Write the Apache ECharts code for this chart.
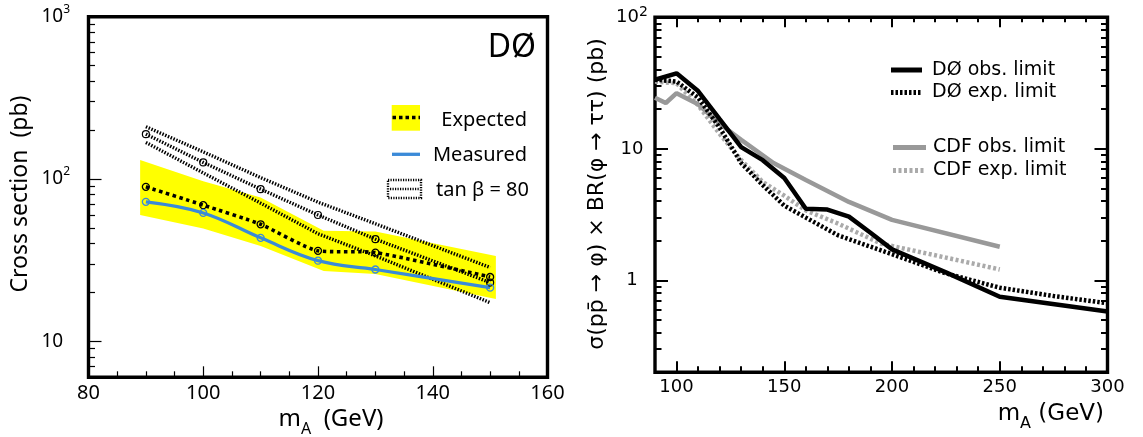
<!DOCTYPE html>
<html><head><meta charset="utf-8">
<script src="https://cdn.jsdelivr.net/npm/echarts@6/dist/echarts.min.js"></script>
<style>html,body{margin:0;padding:0;background:#fff}#c{width:1143px;height:437px}</style>
</head><body><div id="c"></div>
<script>
// ---------- Left panel (DØ, tan beta = 80) ----------
const leftMass = [90, 100, 110, 120, 130, 150];
const expectedLimit = [89.5, 69, 52.6, 36.1, 35.2, 24.9];
const measuredLimit = [72.3, 61.8, 43.4, 31.4, 27.7, 21.4];
const tanBetaCentral = [189, 126.5, 86.6, 60, 42.6, 23];
const tanBetaUpper = [210, 147, 102, 72, 53, 28.5];
const tanBetaLower = [168, 109, 71, 46, 33.6, 17.3];
const bandMass = [89, 100, 110, 121, 130, 151];
const bandUpper = [131, 97, 77, 48, 47.5, 33.5];
const bandLower = [60, 49.5, 38.7, 27.1, 26, 18.2];
const leftYMajor = [10, 100, 1000];
const leftYMinor = [7, 8, 9, 20, 30, 40, 50, 60, 70, 80, 90, 200, 300, 400, 500, 600, 700, 800, 900];

// ---------- Right panel (DØ / CDF limits) ----------
const d0ObsMass = [90, 100, 110, 120, 130, 140, 150, 160, 170, 180, 190, 200, 225, 250, 300];
const d0ObsLimit = [33.5, 37.5, 27.5, 16.8, 10.3, 8.2, 6.0, 3.5, 3.45, 3.05, 2.3, 1.72, 1.15, 0.75, 0.58];
const d0ExpMass = [90, 100, 110, 120, 130, 140, 150, 160, 175, 200, 225, 250, 275, 300];
const d0ExpLimit = [33.5, 32.5, 24.5, 14.5, 7.8, 5.3, 3.7, 3.0, 2.2, 1.58, 1.13, 0.88, 0.76, 0.67];
const cdfObsMass = [90, 95, 100, 110, 120, 130, 145, 160, 180, 200, 250];
const cdfObsLimit = [24.5, 22.3, 26.5, 21.8, 15.5, 11.7, 7.8, 5.8, 3.95, 2.88, 1.8];
const cdfExpMass = [90, 100, 110, 120, 130, 140, 150, 160, 175, 195, 225, 250];
const cdfExpLimit = [32.5, 31.5, 21.5, 13, 8.2, 5.6, 4.4, 3.4, 2.7, 1.9, 1.49, 1.21];
const rightXMajor = [100, 150, 200, 250, 300];
const rightYMajor = [1, 10, 100];
const rightYMinor = [0.3, 0.4, 0.5, 0.6, 0.7, 0.8, 0.9, 2, 3, 4, 5, 6, 7, 8, 9, 20, 30, 40, 50, 60, 70, 80, 90];

const pairs = (xs, ys) => xs.map((x, i) => [x, ys[i]]);

const NOTO = "'Noto Sans', sans-serif";
const DJ = "'DejaVu Sans', sans-serif";

function supLabel(v) {
  const e = Math.round(Math.log10(v));
  if (e >= 2) return '{b|10}{p|' + e + '}';
  return '{b|' + (e === 1 ? '10' : '1') + '}';
}

function tick(len, w, values) {
  const t = { show: true, inside: true, length: len, lineStyle: { color: '#000', width: w } };
  if (values) t.customValues = values;
  return t;
}
const noLabel = { show: false };
const noSplit = { show: false };

const chart = echarts.init(document.getElementById('c'), null, { renderer: 'canvas' });

const option = {
  animation: false,
  backgroundColor: '#fff',
  grid: [
    { left: 88.5, top: 16.7, width: 459, height: 360.6, show: true, borderColor: '#000', borderWidth: 3.4, backgroundColor: 'transparent', containLabel: false, outerBoundsMode: 'none' },
    { left: 655, top: 17.3, width: 452.5, height: 355, show: true, borderColor: '#000', borderWidth: 3.4, backgroundColor: 'transparent', containLabel: false, outerBoundsMode: 'none' }
  ],
  xAxis: [
    { gridIndex: 0, type: 'value', min: 80, max: 160, interval: 20, position: 'bottom',
      axisLine: { show: false }, axisTick: tick(11, 1.2),
      minorTick: { show: true, splitNumber: 4, length: 6, lineStyle: { color: '#000', width: 1.2 } },
      axisLabel: { color: '#000', fontSize: 20, fontFamily: NOTO, margin: 6, showMinLabel: true, showMaxLabel: true },
      splitLine: noSplit, minorSplitLine: noSplit },
    { gridIndex: 1, type: 'value', min: 90, max: 300, position: 'bottom',
      axisLine: { show: false }, axisTick: tick(11, 2, rightXMajor),
      axisLabel: { color: '#000', fontSize: 18, fontFamily: DJ, margin: 6, customValues: rightXMajor, showMinLabel: true, showMaxLabel: true },
      splitLine: noSplit },
    { gridIndex: 1, type: 'value', min: 90, max: 300, interval: 10, position: 'bottom',
      axisLine: { show: false }, axisTick: tick(6, 2), axisLabel: noLabel, splitLine: noSplit },
    { gridIndex: 1, type: 'value', min: 90, max: 300, position: 'top',
      axisLine: { show: false }, axisTick: tick(10, 2, rightXMajor), axisLabel: noLabel, splitLine: noSplit },
    { gridIndex: 1, type: 'value', min: 90, max: 300, interval: 10, position: 'top',
      axisLine: { show: false }, axisTick: tick(5, 2), axisLabel: noLabel, splitLine: noSplit }
  ],
  yAxis: [
    { gridIndex: 0, type: 'log', logBase: 10, min: 6, max: 1000, position: 'left',
      axisLine: { show: false }, axisTick: tick(13, 1.2, leftYMajor),
      axisLabel: { customValues: leftYMajor, align: 'left', margin: 47, color: '#000',
        formatter: v => supLabel(v), showMinLabel: true, showMaxLabel: true,
        rich: { b: { fontSize: 19, fontFamily: NOTO, color: '#000' },
                p: { fontSize: 12, fontFamily: NOTO, color: '#000', padding: [0, 0, 14, 0] } } },
      splitLine: noSplit },
    { gridIndex: 0, type: 'log', logBase: 10, min: 6, max: 1000, position: 'left',
      axisLine: { show: false }, axisTick: tick(6.5, 1.2, leftYMinor), axisLabel: noLabel, splitLine: noSplit },
    { gridIndex: 1, type: 'log', logBase: 10, min: 0.2, max: 100, position: 'left',
      axisLine: { show: false }, axisTick: tick(13, 2, rightYMajor),
      axisLabel: { customValues: rightYMajor, align: 'center', margin: 23, color: '#000',
        formatter: v => supLabel(v), showMinLabel: true, showMaxLabel: true,
        rich: { b: { fontSize: 18, fontFamily: DJ, color: '#000' },
                p: { fontSize: 14, fontFamily: DJ, color: '#000', padding: [0, 0, 9, 0] } } },
      splitLine: noSplit },
    { gridIndex: 1, type: 'log', logBase: 10, min: 0.2, max: 100, position: 'left',
      axisLine: { show: false }, axisTick: tick(6.5, 2, rightYMinor), axisLabel: noLabel, splitLine: noSplit },
    { gridIndex: 1, type: 'log', logBase: 10, min: 0.2, max: 100, position: 'right',
      axisLine: { show: false }, axisTick: tick(13, 2, rightYMajor), axisLabel: noLabel, splitLine: noSplit },
    { gridIndex: 1, type: 'log', logBase: 10, min: 0.2, max: 100, position: 'right',
      axisLine: { show: false }, axisTick: tick(6.5, 2, rightYMinor), axisLabel: noLabel, splitLine: noSplit }
  ],
  series: [
    // yellow expected band: polygon through upper edge then lower edge, placed via the axes
    { name: 'Expected band', type: 'custom', xAxisIndex: 0, yAxisIndex: 0, silent: true,
      data: [[bandMass[0], bandLower[0]]],
      renderItem: function (params, api) {
        const up = bandMass.map((m, i) => api.coord([m, bandUpper[i]]));
        const lo = bandMass.map((m, i) => api.coord([m, bandLower[i]])).reverse();
        return { type: 'polygon', shape: { points: up.concat(lo) }, style: { fill: '#ffff00' } };
      } },
    // tan beta = 80 band lines
    { name: 'tanUpper', type: 'line', xAxisIndex: 0, yAxisIndex: 0, symbol: 'none',
      data: pairs(leftMass, tanBetaUpper), lineStyle: { color: '#000', width: 3.4, type: [1.5, 1.5] } },
    { name: 'tanLower', type: 'line', xAxisIndex: 0, yAxisIndex: 0, symbol: 'none',
      data: pairs(leftMass, tanBetaLower), lineStyle: { color: '#000', width: 3.4, type: [1.5, 1.5] } },
    { name: 'tanCentral', type: 'line', xAxisIndex: 0, yAxisIndex: 0, symbol: 'circle', symbolSize: 7,
      itemStyle: { color: 'transparent', borderColor: '#000', borderWidth: 1.2 },
      data: pairs(leftMass, tanBetaCentral), lineStyle: { color: '#000', width: 3.4, type: [1.5, 1.5] } },
    // expected
    { name: 'Expected', type: 'line', xAxisIndex: 0, yAxisIndex: 0, smooth: 0.2, symbol: 'circle', symbolSize: 7,
      itemStyle: { color: 'transparent', borderColor: '#000', borderWidth: 1.3 },
      data: pairs(leftMass, expectedLimit), lineStyle: { color: '#000', width: 3.6, type: [3.5, 3.5] } },
    // measured
    { name: 'Measured', type: 'line', xAxisIndex: 0, yAxisIndex: 0, smooth: 0.4, symbol: 'circle', symbolSize: 7,
      itemStyle: { color: 'transparent', borderColor: '#3a8ad8', borderWidth: 1.3 },
      data: pairs(leftMass, measuredLimit), lineStyle: { color: '#3a8ad8', width: 3.2 } },
    // right panel
    { name: 'CDF exp. limit', type: 'line', xAxisIndex: 1, yAxisIndex: 2, symbol: 'none',
      data: pairs(cdfExpMass, cdfExpLimit), lineStyle: { color: '#aaaaaa', width: 4.5, type: [3, 2.5] } },
    { name: 'CDF obs. limit', type: 'line', xAxisIndex: 1, yAxisIndex: 2, symbol: 'none',
      data: pairs(cdfObsMass, cdfObsLimit), lineStyle: { color: '#999999', width: 4.5 } },
    { name: 'DØ exp. limit', type: 'line', xAxisIndex: 1, yAxisIndex: 2, symbol: 'none',
      data: pairs(d0ExpMass, d0ExpLimit), lineStyle: { color: '#000', width: 4.5, type: [2.5, 2] } },
    { name: 'DØ obs. limit', type: 'line', xAxisIndex: 1, yAxisIndex: 2, symbol: 'none',
      data: pairs(d0ObsMass, d0ObsLimit), lineStyle: { color: '#000', width: 4.5 } }
  ],
  graphic: [
    // left panel label
    { type: 'text', x: 536, y: 48, style: { text: 'DØ', font: '32px ' + NOTO, fill: '#000', textAlign: 'right', textVerticalAlign: 'middle' } },
    // left legend
    { type: 'rect', shape: { x: 391.7, y: 105, width: 28.3, height: 25.7 }, style: { fill: '#ffff00' } },
    { type: 'line', shape: { x1: 392.5, y1: 117.5, x2: 420, y2: 117.5 }, style: { stroke: '#000', lineWidth: 3.5, lineDash: [3.5, 3] } },
    { type: 'text', x: 527, y: 120, style: { text: 'Expected', font: '20px ' + NOTO, fill: '#000', textAlign: 'right', textVerticalAlign: 'middle' } },
    { type: 'line', shape: { x1: 392, y1: 154.3, x2: 420, y2: 154.3 }, style: { stroke: '#3a8ad8', lineWidth: 3.3 } },
    { type: 'text', x: 527, y: 155, style: { text: 'Measured', font: '20px ' + NOTO, fill: '#000', textAlign: 'right', textVerticalAlign: 'middle' } },
    { type: 'rect', shape: { x: 388, y: 180, width: 33, height: 18 }, style: { fill: 'none', stroke: '#000', lineWidth: 2.4, lineDash: [1.2, 1.3] } },
    { type: 'line', shape: { x1: 390, y1: 189, x2: 419, y2: 189 }, style: { stroke: '#000', lineWidth: 2.4, lineDash: [1.2, 1.3] } },
    { type: 'text', x: 529, y: 190, style: { text: 'tan β = 80', font: '20px ' + NOTO, fill: '#000', textAlign: 'right', textVerticalAlign: 'middle' } },
    // left axis titles
    { type: 'text', x: 20, y: 194, rotation: Math.PI / 2, style: { text: 'Cross section  (pb)', font: '23px ' + NOTO, fill: '#000', textAlign: 'center', textVerticalAlign: 'middle' } },
    { type: 'text', x: 331, y: 419, style: { text: '{m|m}{s|A}{m|  (GeV)}', textAlign: 'center', textVerticalAlign: 'middle',
      rich: { m: { fontSize: 24, fontFamily: NOTO, fill: '#000' }, s: { fontSize: 16, fontFamily: NOTO, fill: '#000', padding: [20, 0, 0, 0] } } } },
    // right legend
    { type: 'line', shape: { x1: 891, y1: 70, x2: 922, y2: 70 }, style: { stroke: '#000', lineWidth: 5 } },
    { type: 'text', x: 932, y: 70, style: { text: 'DØ obs. limit', font: '19px ' + DJ, fill: '#000', textVerticalAlign: 'middle' } },
    { type: 'line', shape: { x1: 891, y1: 92.5, x2: 921, y2: 92.5 }, style: { stroke: '#000', lineWidth: 5, lineDash: [2.5, 2] } },
    { type: 'text', x: 932, y: 92, style: { text: 'DØ exp. limit', font: '19px ' + DJ, fill: '#000', textVerticalAlign: 'middle' } },
    { type: 'line', shape: { x1: 893, y1: 147.5, x2: 926, y2: 147.5 }, style: { stroke: '#999999', lineWidth: 5 } },
    { type: 'text', x: 933, y: 147, style: { text: 'CDF obs. limit', font: '19px ' + DJ, fill: '#000', textVerticalAlign: 'middle' } },
    { type: 'line', shape: { x1: 893, y1: 170.5, x2: 926, y2: 170.5 }, style: { stroke: '#aaaaaa', lineWidth: 5, lineDash: [3, 2.5] } },
    { type: 'text', x: 933, y: 170, style: { text: 'CDF exp. limit', font: '19px ' + DJ, fill: '#000', textVerticalAlign: 'middle' } },
    // right axis titles
    { type: 'text', x: 597, y: 194, rotation: Math.PI / 2, style: { text: 'σ(pp\u0304 → φ) × BR(φ → ττ) (pb)', font: '22px ' + DJ, fill: '#000', textAlign: 'center', textVerticalAlign: 'middle' } },
    { type: 'text', x: 1104, y: 414, style: { text: '{m|m}{s|A}{m| (GeV)}', textAlign: 'right', textVerticalAlign: 'middle',
      rich: { m: { fontSize: 23, fontFamily: DJ, fill: '#000' }, s: { fontSize: 16, fontFamily: DJ, fill: '#000', padding: [20, 0, 0, 0] } } } }
  ]
};
chart.setOption(option);
</script></body></html>
